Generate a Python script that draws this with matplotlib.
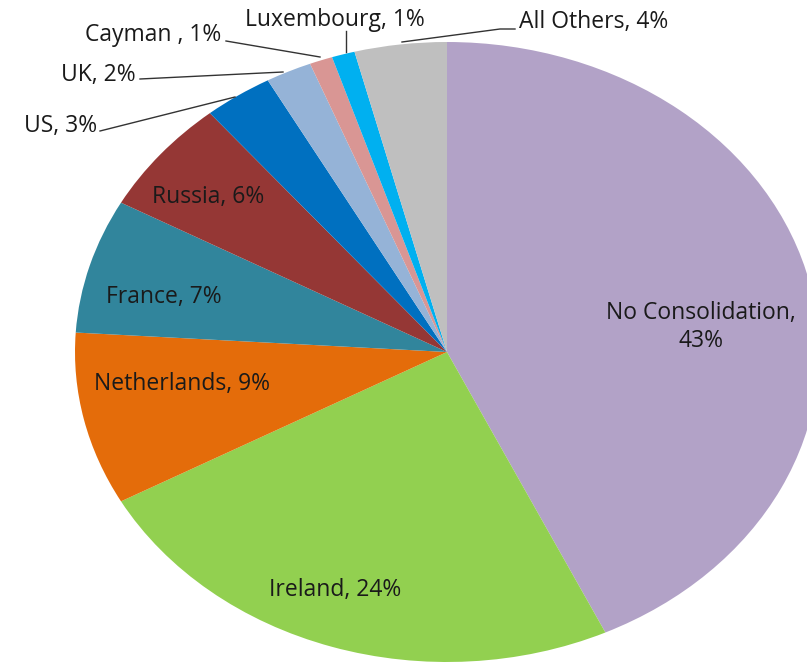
"""
pie of profit shifting by consolidation country
"""

import matplotlib
matplotlib.use("Agg")
import matplotlib.pyplot as plt

labels = ["No Consolidation", "Ireland", "Netherlands", "France", "Russia",
          "US", "UK", "Cayman ", "Luxembourg", "All Others"]
shares = [43, 24, 9, 7, 6, 3, 2, 1, 1, 4]
colors = ["#B2A2C7", "#92D050", "#E46C0A", "#31859C", "#953735",
          "#0070C0", "#95B3D7", "#D99694", "#00B0F0", "#BFBFBF"]

# pixel geometry of the (horizontally stretched) pie in the 807x664 picture
W, H = 807, 664
CX, CY, RX, RY = 447, 352, 372, 310


def px(x, y):
    """pixel (from top-left) -> data coords of the unit pie"""
    return (x - CX) / RX, (CY - y) / RY


plt.rcParams['font.family'] = ['Open Sans', 'DejaVu Sans']
fig = plt.figure(figsize=(W / 100, H / 100), dpi=100)
ax = fig.add_axes([0, 0, 1, 1])
ax.pie(shares, colors=colors, startangle=90, counterclock=False, radius=1,
       wedgeprops=dict(linewidth=0))
ax.set_aspect('auto')
ax.set_xlim(-CX / RX, (W - CX) / RX)
ax.set_ylim((CY - H) / RY, CY / RY)
ax.axis('off')

fs = 16.5
tc = "#1a1a1a"

# labels inside the slices
inside = {0: (701, 327), 1: (335, 590), 2: (182, 384), 3: (164, 297), 4: (208, 197)}
for i, (x, y) in inside.items():
    txt = "%s, %d%%" % (labels[i], shares[i])
    if i == 0:
        txt = "%s,\n%d%%" % (labels[i], shares[i])
    ax.text(*px(x, y), txt, ha='center', va='center', fontsize=fs, color=tc,
            linespacing=1.2)

# labels outside with leader lines
outside = [
    (5, (97, 126), 'right', [(100, 131), (235, 97)]),
    (6, (136, 75), 'right', [(140, 79), (283, 72)]),
    (7, (221, 35), 'right', [(226, 41), (320, 57)]),
    (8, (335, 20), 'center', [(346, 31), (346, 52)]),
    (9, (519, 22), 'left', [(515, 29), (500, 29), (402, 42)]),
]
for i, (x, y), ha, pts in outside:
    txt = "%s, %d%%" % (labels[i], shares[i])
    ax.text(*px(x, y), txt, ha=ha, va='center', fontsize=fs, color=tc)
    xs, ys = zip(*[px(a, b) for a, b in pts])
    ax.plot(xs, ys, color="#333333", lw=1)

fig.savefig("out.png", dpi=100)
